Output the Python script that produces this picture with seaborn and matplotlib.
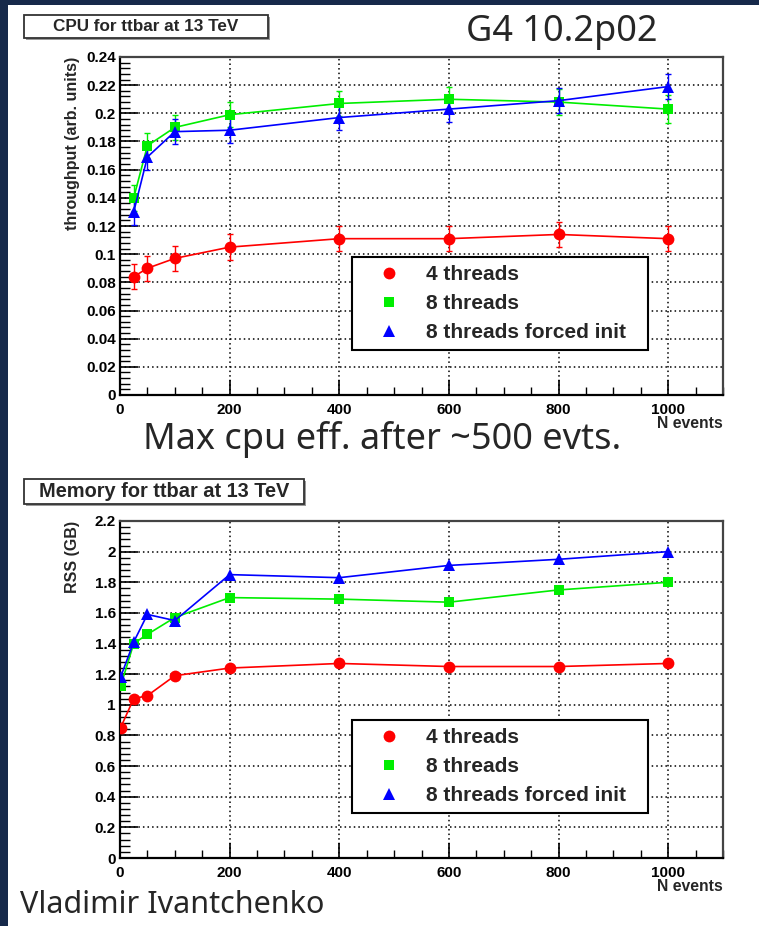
import matplotlib
matplotlib.use("Agg")
import matplotlib.pyplot as plt
import matplotlib.patches as mpatches
from matplotlib.lines import Line2D
from matplotlib.ticker import MultipleLocator, FuncFormatter
import pandas as pd
import seaborn as sns

sns.set_theme(style="white")
plt.rcParams["font.family"] = ["Liberation Sans", "DejaVu Sans"]

SERIES = ["4 threads", "8 threads", "8 threads forced init"]
COLORS = {"4 threads": "#ff0000", "8 threads": "#00ee00", "8 threads forced init": "#0000ff"}
MARKERS = {"4 threads": "o", "8 threads": "s", "8 threads forced init": "^"}
SIZES = {"4 threads": 8.5, "8 threads": 7.8, "8 threads forced init": 9.0}

# CPU throughput
cpu_events = [25, 50, 100, 200, 400, 600, 800, 1000]
cpu_4thr = [0.084, 0.090, 0.097, 0.105, 0.111, 0.111, 0.114, 0.111]
cpu_8thr = [0.140, 0.177, 0.190, 0.199, 0.207, 0.210, 0.208, 0.203]
cpu_8thr_init = [0.130, 0.169, 0.187, 0.188, 0.197, 0.203, 0.209, 0.219]
cpu_err_4thr = [0.009, 0.009, 0.009, 0.009, 0.009, 0.009, 0.009, 0.009]
cpu_err_8thr = [0.009, 0.009, 0.009, 0.009, 0.009, 0.009, 0.009, 0.010]
cpu_err_8thr_init = [0.009, 0.009, 0.009, 0.009, 0.009, 0.009, 0.009, 0.009]

# memory RSS
mem_events = [1, 25, 50, 100, 200, 400, 600, 800, 1000]
mem_4thr = [0.85, 1.04, 1.06, 1.19, 1.24, 1.27, 1.25, 1.25, 1.27]
mem_8thr = [1.12, 1.40, 1.46, 1.57, 1.70, 1.69, 1.67, 1.75, 1.80]
mem_8thr_init = [1.18, 1.41, 1.59, 1.55, 1.85, 1.83, 1.91, 1.95, 2.00]


def to_long(events, columns, errors=None):
    frames = []
    for i, (name, vals) in enumerate(zip(SERIES, columns)):
        df = pd.DataFrame({"events": events, "value": vals, "series": name})
        if errors is not None:
            df["err"] = errors[i]
        frames.append(df)
    return pd.concat(frames, ignore_index=True)


def style_axes(ax, ymax, ymajor, yminor, ylabel):
    ax.set_xlim(0, 1100)
    ax.set_ylim(0, ymax)
    ax.xaxis.set_major_locator(MultipleLocator(200))
    ax.xaxis.set_minor_locator(MultipleLocator(50))
    ax.yaxis.set_major_locator(MultipleLocator(ymajor))
    ax.yaxis.set_minor_locator(MultipleLocator(yminor))
    ax.yaxis.set_major_formatter(FuncFormatter(lambda v, p: f"{v:.10g}"))
    ax.xaxis.set_major_formatter(FuncFormatter(lambda v, p: f"{v:.10g}"))
    ax.tick_params(axis="both", which="both", direction="in", left=True, bottom=True,
                   top=False, right=False, labelsize=11, colors="black")
    ax.tick_params(axis="y", which="major", length=13, width=1.2, pad=3)
    ax.tick_params(axis="y", which="minor", length=7, width=1.0)
    ax.tick_params(axis="x", which="major", length=11, width=1.2, pad=6)
    ax.tick_params(axis="x", which="minor", length=6, width=1.0)
    for lab in ax.get_xticklabels() + ax.get_yticklabels():
        lab.set_fontweight("bold")
    ax.grid(True, which="major", color="black", linestyle=(0, (1, 2)), linewidth=1.1)
    for side in ["left", "bottom"]:
        ax.spines[side].set_color("black")
        ax.spines[side].set_linewidth(1.6)
    for side in ["top", "right"]:
        ax.spines[side].set_color("#444444")
        ax.spines[side].set_linewidth(1.6)
    ax.set_xlabel("")
    ax.set_ylabel("")
    ax.text(-0.078, 1.0, ylabel, rotation=90, ha="center", va="top",
            transform=ax.transAxes, fontsize=11.5, fontweight="bold")
    ax.text(1.0, -0.085, "N events", ha="right", va="center",
            transform=ax.transAxes, fontsize=11.3, fontweight="bold")


def add_legend(ax, left, top, width):
    handles = [Line2D([], [], linestyle="none", marker=MARKERS[s], color=COLORS[s],
                      markersize=SIZES[s], markeredgewidth=0) for s in SERIES]
    leg = ax.legend(handles, SERIES, loc="upper left", bbox_to_anchor=(left, top - 0.2, width, 0.2),
                    mode="expand", frameon=True, fancybox=False, edgecolor="black", framealpha=1,
                    borderpad=0.38, labelspacing=0.48, handlelength=2.75, handletextpad=0.4,
                    borderaxespad=0, prop={"weight": "bold", "size": 15})
    leg.get_frame().set_linewidth(1.5)


def draw_panel(ax, data, with_err):
    sns.lineplot(data=data, x="events", y="value", hue="series", style="series",
                 palette=COLORS, markers=MARKERS, dashes=False, linewidth=1.2,
                 markeredgewidth=0, ax=ax, legend=False, estimator=None, sort=False, zorder=3)
    for line, s in zip(ax.get_lines(), SERIES):
        line.set_markersize(SIZES[s])
    if with_err:
        for s in SERIES:
            sub = data[data["series"] == s]
            ax.errorbar(sub["events"], sub["value"], yerr=sub["err"], fmt="none",
                        ecolor=COLORS[s], elinewidth=1.0, capsize=2.5, capthick=1.0, zorder=2)


fig = plt.figure(figsize=(7.59, 9.26), dpi=100)
fig.patch.set_facecolor("white")

navy = "#16294a"
fig.patches.append(mpatches.Rectangle((0, 0), 8 / 759, 1, transform=fig.transFigure,
                                      facecolor=navy, edgecolor="none", zorder=0))
fig.patches.append(mpatches.Rectangle((0, 1 - 5 / 926), 1, 5 / 926, transform=fig.transFigure,
                                      facecolor=navy, edgecolor="none", zorder=0))

ax1 = fig.add_axes([120 / 759, (926 - 395) / 926, 603 / 759, 338 / 926])
ax2 = fig.add_axes([120 / 759, (926 - 858) / 926, 603 / 759, 337 / 926])

cpu_df = to_long(cpu_events, [cpu_4thr, cpu_8thr, cpu_8thr_init],
                 [cpu_err_4thr, cpu_err_8thr, cpu_err_8thr_init])
mem_df = to_long(mem_events, [mem_4thr, mem_8thr, mem_8thr_init])

draw_panel(ax1, cpu_df, True)
draw_panel(ax2, mem_df, False)

style_axes(ax1, 0.24, 0.02, 0.004, "throughput (arb. units)")
style_axes(ax2, 2.2, 0.2, 0.04, "RSS (GB)")

add_legend(ax1, (352 - 120) / 603, (395 - 257) / 338, (648 - 352) / 603)
add_legend(ax2, (352 - 120) / 603, (858 - 720) / 337, (648 - 352) / 603)


def title_box(x0, y0, x1, y1, text, size):
    w, h = (x1 - x0) / 759, (y1 - y0) / 926
    fig.patches.append(mpatches.Rectangle(((x0 + 2) / 759, 1 - (y1 + 2) / 926), w, h,
                                          transform=fig.transFigure, facecolor="#999999",
                                          edgecolor="none"))
    fig.patches.append(mpatches.Rectangle((x0 / 759, 1 - y1 / 926), w, h, transform=fig.transFigure,
                                          facecolor="white", edgecolor="#333333", linewidth=1.3))
    fig.text((x0 + x1) / 2 / 759, 1 - (y0 + y1) / 2 / 926, text, ha="center", va="center",
             fontsize=size, fontweight="bold")


title_box(24, 15, 268, 38, "CPU for ttbar at 13 TeV", 12.3)
title_box(24, 479, 304, 504, "Memory for ttbar at 13 TeV", 14.4)

fig.text(562 / 759, 1 - 32 / 926, "G4 10.2p02", ha="center", va="center",
         fontsize=26, family=["Noto Sans", "DejaVu Sans"])
fig.text(382 / 759, 1 - 440 / 926, "Max cpu eff. after ~500 evts.", ha="center", va="center",
         fontsize=26, family=["Noto Sans", "DejaVu Sans"])
fig.text(20 / 759, 1 - 905 / 926, "Vladimir Ivantchenko", ha="left", va="center",
         fontsize=22, family=["Noto Sans", "DejaVu Sans"])

fig.savefig("out.png", dpi=100, facecolor="white")
